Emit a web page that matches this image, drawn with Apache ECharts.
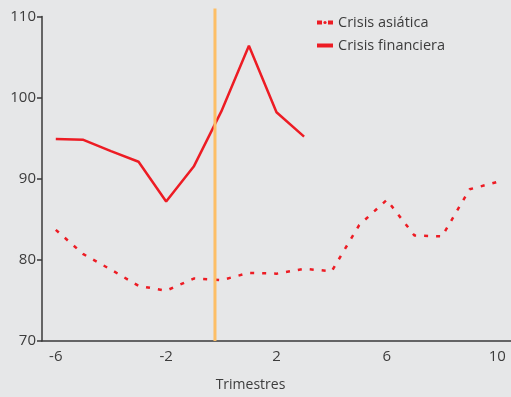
<!DOCTYPE html>
<html>
<head>
<meta charset="utf-8">
<script src="https://cdn.jsdelivr.net/npm/echarts@6/dist/echarts.min.js"></script>
<style>
  html, body { margin: 0; padding: 0; background: #e6e7e8; }
  #chart { width: 511px; height: 397px; }
</style>
</head>
<body>
<div id="chart"></div>
<script>
const quarters = ["-6", "-5", "-4", "-3", "-2", "-1", "0", "1", "2", "3", "4", "5", "6", "7", "8", "9", "10"];
const asiatica = [83.7, 80.7, 78.8, 76.8, 76.2, 77.7, 77.5, 78.4, 78.3, 78.9, 78.6, 84.3, 87.4, 83.0, 82.9, 88.7, 89.6];
const financiera = [94.9, 94.8, 93.4, 92.1, 87.2, 91.5, 98.3, 106.4, 98.2, 95.2, "-", "-", "-", "-", "-", "-", "-"];
const markerX = -0.23; // vertical reference line, in quarters
const markerY = [70, 111];

const red = "#ed1c24";
const axisColor = "#3a3a3a";
const textColor = "#3c3c3c";
const font = "Open Sans";

const chart = echarts.init(document.getElementById("chart"));
chart.setOption({
  animation: false,
  backgroundColor: "#e6e7e8",
  textStyle: { fontFamily: font },
  legend: {
    orient: "vertical",
    left: 310,
    top: 10,
    itemWidth: 16,
    itemHeight: 4,
    itemGap: 8,
    textStyle: { fontSize: 14.5, color: textColor, fontFamily: font },
    data: [
      { name: "Crisis asiática", lineStyle: { width: 4, type: [5, 6] } },
      { name: "Crisis financiera", lineStyle: { width: 4 } },
    ],
  },
  grid: { left: 42, top: 16.5, width: 472, height: 327.5 },
  xAxis: [
    {
      type: "category",
      data: quarters,
      boundaryGap: true,
      axisLine: { onZero: false, lineStyle: { color: axisColor, width: 1.5 } },
      axisTick: { interval: 3, length: 4, lineStyle: { color: axisColor, width: 1.5 } },
      axisLabel: { interval: 3, fontSize: 15, color: textColor, margin: 8 },
      name: "Trimestres",
      nameLocation: "middle",
      nameGap: 37,
      nameTextStyle: { fontSize: 14, color: textColor, padding: [0, 52, 0, 0] },
    },
    {
      type: "value",
      min: -6.5,
      max: 10.5,
      show: false,
    },
  ],
  yAxis: {
    type: "value",
    min: 70,
    max: 110,
    interval: 10,
    axisLine: { show: true, onZero: false, lineStyle: { color: axisColor, width: 1.5 } },
    axisTick: { show: true, length: 5, lineStyle: { color: axisColor, width: 1.5 } },
    axisLabel: { fontSize: 15, color: textColor, margin: 6 },
    splitLine: { show: false },
  },
  series: [
    {
      name: "Crisis asiática",
      type: "line",
      data: asiatica,
      symbol: "none",
      itemStyle: { color: red },
      lineStyle: { color: red, width: 2.5, type: [4, 8] },
    },
    {
      name: "Crisis financiera",
      type: "line",
      data: financiera,
      symbol: "none",
      itemStyle: { color: red },
      lineStyle: { color: red, width: 2.5 },
    },
    {
      name: "marker",
      type: "line",
      xAxisIndex: 1,
      data: markerY.map(function (y) { return [markerX, y]; }),
      symbol: "none",
      clip: false,
      z: 5,
      silent: true,
      lineStyle: { color: "#fdbf66", width: 3 },
    },
  ],
});
</script>
</body>
</html>
